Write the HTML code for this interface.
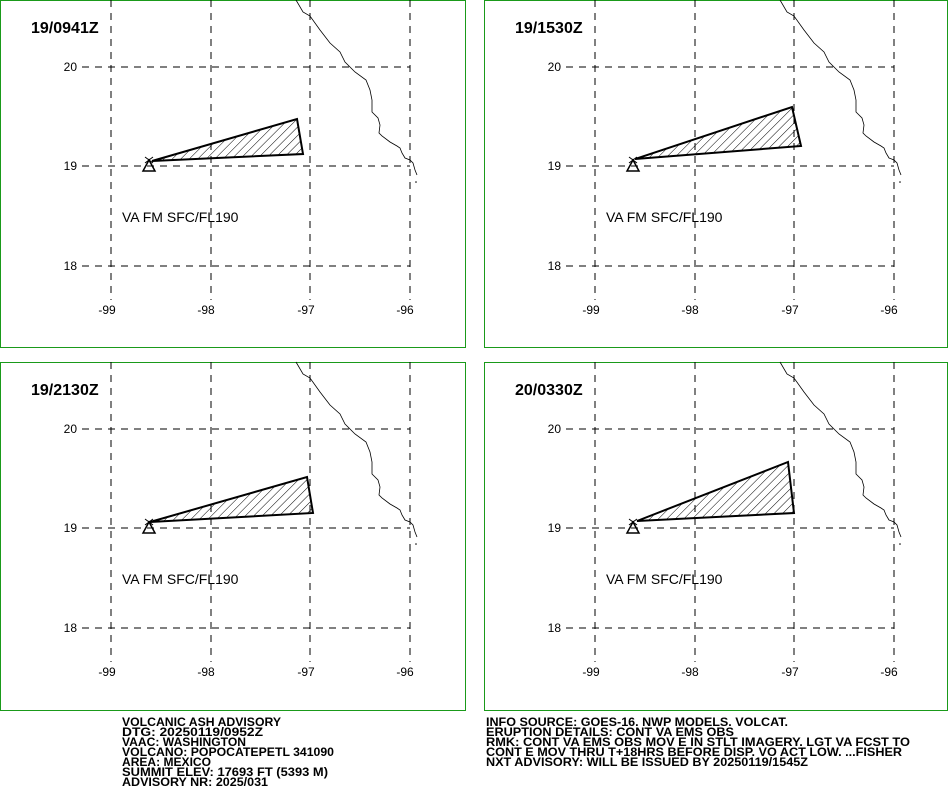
<!DOCTYPE html>
<html><head><meta charset="utf-8"><style>
html,body{margin:0;padding:0;background:#fff;}
svg{display:block;font-family:"Liberation Sans",sans-serif;}
</style></head><body>
<svg width="950" height="812" viewBox="0 0 950 812" xmlns="http://www.w3.org/2000/svg">
<defs>
<pattern id="h" patternUnits="userSpaceOnUse" width="6" height="6" patternTransform="rotate(45)">
<line x1="0" y1="0" x2="0" y2="6" stroke="#000" stroke-width="1"/>
</pattern>
<g id="base">
<g stroke="#000" stroke-width="1" stroke-dasharray="7,6" fill="none">
<line x1="111" y1="0" x2="111" y2="300"/>
<line x1="211" y1="0" x2="211" y2="300"/>
<line x1="310" y1="0" x2="310" y2="300"/>
<line x1="410" y1="0" x2="410" y2="300"/>
<line x1="82" y1="67" x2="410" y2="67"/>
<line x1="82" y1="166" x2="410" y2="166"/>
<line x1="82" y1="266" x2="410" y2="266"/>
</g>
<g font-size="12" fill="#000" text-anchor="end">
<text x="77" y="71">20</text><text x="77" y="170">19</text><text x="77" y="270">18</text>
</g>
<g font-size="12" fill="#000" text-anchor="middle">
<text x="107" y="314">-99</text><text x="206" y="314">-98</text><text x="306" y="314">-97</text><text x="405" y="314">-96</text>
</g>
<polyline fill="none" stroke="#000" stroke-width="0.8" points="296,0 303,12 310,16 320,30 330,43 340,52 345,62 355,72 366,80 370,90 372,100 372,112 378,118 380,125 379,133 382,136 390,142 397,146 400,148 402,153 405,158 410,160 413,163 415,170 417,175"/>
<circle cx="416" cy="182" r="0.8" fill="#000"/>
<path d="M149,160 L143,171 L155,171 Z" fill="none" stroke="#000" stroke-width="1.5"/>
<path d="M145,157 L153,163 M153,157 L145,163" stroke="#000" stroke-width="1"/>
<text x="122" y="222" font-size="14" fill="#000">VA FM SFC/FL190</text>
</g>
</defs>

<g>
<rect x="0.5" y="0.5" width="465" height="347" fill="none" stroke="#1a9a1a"/>
<use href="#base"/>
<polygon points="152,161 297,119 303,154" fill="url(#h)" stroke="#000" stroke-width="2"/>
<text x="31" y="33" font-size="16" font-weight="bold">19/0941Z</text>
</g>
<g transform="translate(484,0)">
<rect x="0.5" y="0.5" width="463" height="347" fill="none" stroke="#1a9a1a"/>
<use href="#base"/>
<polygon points="151,159 308,107 317,146" fill="url(#h)" stroke="#000" stroke-width="2"/>
<text x="31" y="33" font-size="16" font-weight="bold">19/1530Z</text>
</g>
<g transform="translate(0,362)">
<rect x="0.5" y="0.5" width="465" height="348" fill="none" stroke="#1a9a1a"/>
<use href="#base"/>
<polygon points="150,160 307,115 313,151" fill="url(#h)" stroke="#000" stroke-width="2"/>
<text x="31" y="33" font-size="16" font-weight="bold">19/2130Z</text>
</g>
<g transform="translate(484,362)">
<rect x="0.5" y="0.5" width="463" height="348" fill="none" stroke="#1a9a1a"/>
<use href="#base"/>
<polygon points="153,159 304,100 310,151" fill="url(#h)" stroke="#000" stroke-width="2"/>
<text x="31" y="33" font-size="16" font-weight="bold">20/0330Z</text>
</g>

<g font-size="12" font-weight="bold" fill="#000">
<text x="122" y="726" textLength="159" lengthAdjust="spacingAndGlyphs">VOLCANIC ASH ADVISORY</text>
<text x="122" y="736" textLength="141" lengthAdjust="spacingAndGlyphs">DTG: 20250119/0952Z</text>
<text x="122" y="746" textLength="124" lengthAdjust="spacingAndGlyphs">VAAC: WASHINGTON</text>
<text x="122" y="756" textLength="212" lengthAdjust="spacingAndGlyphs">VOLCANO: POPOCATEPETL 341090</text>
<text x="122" y="766" textLength="89" lengthAdjust="spacingAndGlyphs">AREA: MEXICO</text>
<text x="122" y="776" textLength="206" lengthAdjust="spacingAndGlyphs">SUMMIT ELEV: 17693 FT (5393 M)</text>
<text x="122" y="786" textLength="146" lengthAdjust="spacingAndGlyphs">ADVISORY NR: 2025/031</text>
<text x="486" y="726" textLength="302" lengthAdjust="spacingAndGlyphs">INFO SOURCE: GOES-16. NWP MODELS. VOLCAT.</text>
<text x="486" y="736" textLength="248" lengthAdjust="spacingAndGlyphs">ERUPTION DETAILS: CONT VA EMS OBS</text>
<text x="486" y="746" textLength="424" lengthAdjust="spacingAndGlyphs">RMK: CONT VA EMS OBS MOV E IN STLT IMAGERY. LGT VA FCST TO</text>
<text x="486" y="756" textLength="416" lengthAdjust="spacingAndGlyphs">CONT E MOV THRU T+18HRS BEFORE DISP. VO ACT LOW. ...FISHER</text>
<text x="486" y="766" textLength="322" lengthAdjust="spacingAndGlyphs">NXT ADVISORY: WILL BE ISSUED BY 20250119/1545Z</text>
</g>
</svg>
</body></html>
